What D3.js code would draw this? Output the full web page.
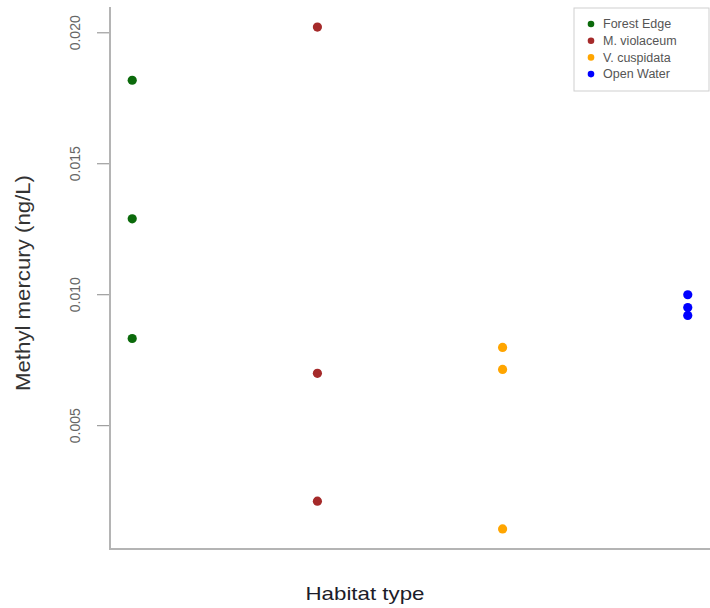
<!DOCTYPE html>
<html>
<head>
<meta charset="utf-8">
<title>Methyl mercury by habitat</title>
<script src="https://d3js.org/d3.v7.min.js"></script>
<style>
  body { margin: 0; background: #fff; }
  text { font-family: "Liberation Sans", Arial, Helvetica, sans-serif; }
</style>
</head>
<body>
<div id="chart"></div>
<script>
// categories and their colours
const habitats = ["Forest Edge", "M. violaceum", "V. cuspidata", "Open Water"];
const colours = ["#0b6a0b", "#a52a2a", "#ffa500", "#0000ff"];

// methyl mercury values (ng/L)
const forestEdge = [0.01817, 0.01288, 0.00831];
const violaceum = [0.0202, 0.00698, 0.0021];
const cuspidata = [0.00797, 0.00713, 0.00104];
const openWater = [0.00998, 0.00949, 0.00919];

const yTicks = [0.005, 0.010, 0.015, 0.020];

const W = 710, H = 608;
const margin = {top: 7, right: 0, bottom: 59, left: 110};
const width = W - margin.left - margin.right,
      height = H - margin.top - margin.bottom;

const svg = d3.select("#chart").append("svg")
  .attr("width", W)
  .attr("height", H);

const g = svg.append("g")
  .attr("transform", "translate(" + margin.left + "," + margin.top + ")");

const series = [forestEdge, violaceum, cuspidata, openWater];
const points = [];
series.forEach(function(vals, i) {
  vals.forEach(function(v) { points.push({i: i + 1, v: v}); });
});

// R style 4% padding on both axes
const yMin = d3.min(points, d => d.v), yMax = d3.max(points, d => d.v);
const yPad = (yMax - yMin) * 0.04;
const y = d3.scaleLinear()
  .domain([yMin - yPad, yMax + yPad])
  .range([height, 0]);

const x = d3.scaleLinear()
  .domain([1 - 0.12, 4 + 0.12])
  .range([0, width]);

// y axis ticks
const yAxis = g.append("g")
  .call(d3.axisLeft(y).tickValues(yTicks).tickFormat(d3.format(".3f")).tickSize(13).tickPadding(0));
yAxis.select(".domain").remove();
yAxis.selectAll(".tick line").attr("stroke", "#8a8a8a").attr("stroke-width", 1);
yAxis.selectAll(".tick text")
  .attr("fill", "#666")
  .attr("font-size", 14)
  .attr("text-anchor", "middle")
  .attr("transform", "translate(-35,0) rotate(-90)")
  .attr("x", 0)
  .attr("dy", "0.35em");

// L-shaped box
g.append("path")
  .attr("d", "M0,0V" + height + "H" + width)
  .attr("fill", "none")
  .attr("stroke", "#b4b4b4")
  .attr("stroke-width", 2);

// points
g.selectAll("circle.pt")
  .data(points)
  .enter()
  .append("circle")
    .attr("class", "pt")
    .attr("cx", d => x(d.i))
    .attr("cy", d => y(d.v))
    .attr("r", 4.6)
    .attr("fill", d => colours[d.i - 1]);

// axis titles
svg.append("text")
  .attr("x", 365)
  .attr("y", 600)
  .attr("text-anchor", "middle")
  .attr("font-size", 19)
  .attr("textLength", 119)
  .attr("lengthAdjust", "spacingAndGlyphs")
  .attr("fill", "#1c1c2a")
  .text("Habitat type");

svg.append("text")
  .attr("transform", "translate(30,283) rotate(-90)")
  .attr("text-anchor", "middle")
  .attr("font-size", 20)
  .attr("textLength", 216)
  .attr("lengthAdjust", "spacingAndGlyphs")
  .attr("fill", "#333")
  .text("Methyl mercury (ng/L)");

// legend
const legend = svg.append("g").attr("transform", "translate(574,8)");
legend.append("rect")
  .attr("width", 135)
  .attr("height", 83)
  .attr("fill", "#fff")
  .attr("stroke", "#cfcfcf");
habitats.forEach(function(h, i) {
  legend.append("circle")
    .attr("cx", 17)
    .attr("cy", 16 + i * 16.7)
    .attr("r", 3.3)
    .attr("fill", colours[i]);
  legend.append("text")
    .attr("x", 29)
    .attr("y", 16 + i * 16.7)
    .attr("dy", "0.35em")
    .attr("font-size", 12.5)
    .attr("fill", "#555")
    .text(h);
});
</script>
</body>
</html>
